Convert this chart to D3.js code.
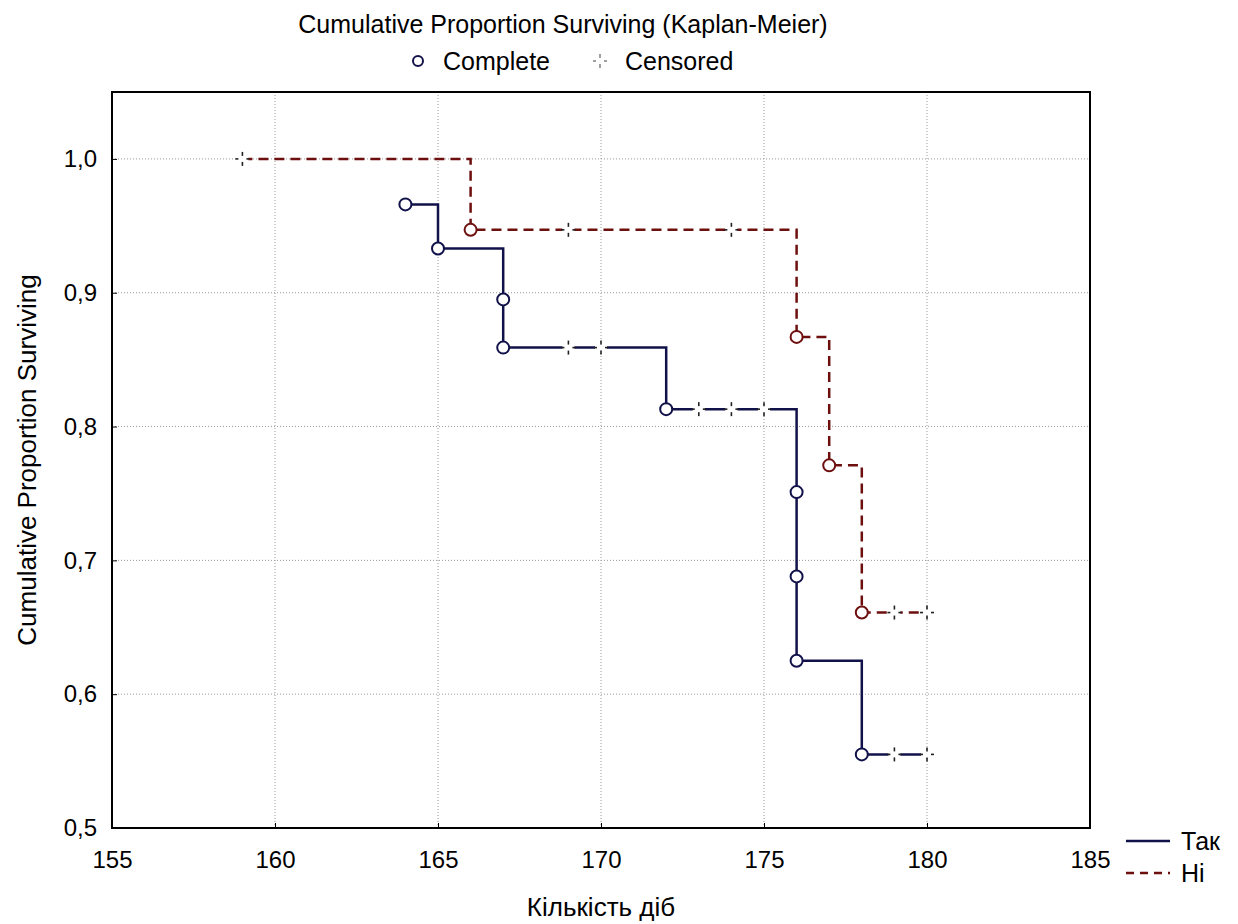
<!DOCTYPE html>
<html><head><meta charset="utf-8">
<script src="https://cdn.jsdelivr.net/npm/d3@7"></script>
<style>body{margin:0;background:#fff;} text{font-family:"Liberation Sans",Arial,sans-serif;fill:#000;}</style>
</head><body>
<svg id="c" width="1238" height="924"></svg>
<script>
const xTicks = [155,160,165,170,175,180,185];
const yTicks = [0.5,0.6,0.7,0.8,0.9,1.0];
const yTickLabels = ["0,5","0,6","0,7","0,8","0,9","1,0"];

const seriesNames = ["Так","Ні"];
const takCompleteT = [164,165,167,167,172,176,176,176,178];
const takCompleteS = [0.966,0.933,0.895,0.859,0.813,0.751,0.688,0.625,0.555];
const takCensoredT = [169,170,173,174,175,179,180];
const takCensoredS = [0.859,0.859,0.813,0.813,0.813,0.555,0.555];

const hiCompleteT = [166,176,177,178];
const hiCompleteS = [0.947,0.867,0.771,0.661];
const hiCensoredT = [159,169,174,179,180];
const hiCensoredS = [1.0,0.947,0.947,0.661,0.661];

const svg = d3.select("#c");
const L=112, R=1090, T=92, B=828;
const x = d3.scaleLinear().domain([155,185]).range([L,R]);
const y = d3.scaleLinear().domain([0.5,1.05]).range([B,T]);

// grid
svg.append("g").selectAll("line").data(xTicks.slice(1,-1)).join("line")
  .attr("x1",d=>x(d)).attr("x2",d=>x(d)).attr("y1",T).attr("y2",B)
  .attr("stroke","#999").attr("stroke-width",1).attr("stroke-dasharray","1,2");
svg.append("g").selectAll("line").data(yTicks.slice(1)).join("line")
  .attr("x1",L).attr("x2",R).attr("y1",d=>y(d)).attr("y2",d=>y(d))
  .attr("stroke","#999").attr("stroke-width",1).attr("stroke-dasharray","1,2");

// axes
const xAxis = d3.axisBottom(x).tickValues(xTicks).tickSize(-5).tickPadding(23).tickFormat(d3.format("d"));
const yAxis = d3.axisLeft(y).tickValues(yTicks).tickSize(-5).tickPadding(15).tickFormat((d,i)=>yTickLabels[i]);
const gx = svg.append("g").attr("transform",`translate(0,${B})`).call(xAxis);
const gy = svg.append("g").attr("transform",`translate(${L},0)`).call(yAxis);
[gx,gy].forEach(g=>{g.select(".domain").remove();
  g.selectAll("text").style("font-size","24px").style("font-family","Liberation Sans, Arial, sans-serif").attr("fill","#000");
  g.selectAll("line").attr("stroke","#000");});

svg.append("rect").attr("x",L).attr("y",T).attr("width",R-L).attr("height",B-T)
  .attr("fill","none").attr("stroke","#000").attr("stroke-width",2);

function buildSeries(cT,cS,zT,zS){
  const ev = cT.map((t,i)=>({t,s:cS[i],c:false})).concat(zT.map((t,i)=>({t,s:zS[i],c:true})));
  ev.sort((a,b)=>a.t-b.t || b.s-a.s);
  return ev;
}
const series = [
  {name:seriesNames[0], ev:buildSeries(takCompleteT,takCompleteS,takCensoredT,takCensoredS), color:"#12124a", dash:null},
  {name:seriesNames[1], ev:buildSeries(hiCompleteT,hiCompleteS,hiCensoredT,hiCensoredS), color:"#6e0f0f", dash:"10,6"}
];
const line = d3.line().x(d=>x(d.t)).y(d=>y(d.s)).curve(d3.curveStepAfter);
const crossSegs = [[0,-7,0,-3],[0,3,0,7],[-7,0,-4,0],[4,0,7,0]];

series.forEach(s=>{
  const g = svg.append("g");
  g.append("path").attr("d",line(s.ev)).attr("fill","none").attr("stroke",s.color)
    .attr("stroke-width",2.5).attr("stroke-dasharray",s.dash);
  const cz = s.ev.filter(d=>d.c);
  const cg = g.selectAll("g.cz").data(cz).join("g").attr("transform",d=>`translate(${x(d.t)},${y(d.s)})`);
  cg.append("rect").attr("x",-6).attr("y",-3).attr("width",12).attr("height",6).attr("fill","#fff");
  crossSegs.forEach(p=>{
    cg.append("line").attr("x1",p[0]).attr("y1",p[1]).attr("x2",p[2]).attr("y2",p[3])
      .attr("stroke","#222").attr("stroke-width",1.6);
  });
  g.selectAll("circle").data(s.ev.filter(d=>!d.c)).join("circle")
    .attr("cx",d=>x(d.t)).attr("cy",d=>y(d.s)).attr("r",6)
    .attr("fill","#fff").attr("stroke",s.color).attr("stroke-width",2);
});

// titles
svg.append("text").attr("x",563).attr("y",33).attr("text-anchor","middle").style("font-size","25px")
  .text("Cumulative Proportion Surviving (Kaplan-Meier)");
svg.append("circle").attr("cx",418).attr("cy",61).attr("r",5).attr("fill","#fff").attr("stroke","#12124a").attr("stroke-width",2);
svg.append("text").attr("x",443).attr("y",70).style("font-size","25px").text("Complete");
const lc = svg.append("g").attr("transform","translate(600,61)");
crossSegs.forEach(p=>{
  lc.append("line").attr("x1",p[0]).attr("y1",p[1]).attr("x2",p[2]).attr("y2",p[3]).attr("stroke","#777").attr("stroke-width",1.4);
});
svg.append("text").attr("x",625).attr("y",70).style("font-size","25px").text("Censored");

svg.append("text").attr("transform","translate(36,460) rotate(-90)").attr("text-anchor","middle")
  .style("font-size","26px").text("Cumulative Proportion Surviving");
svg.append("text").attr("x",601).attr("y",916).attr("text-anchor","middle").style("font-size","26px").text("Кількість діб");

// series legend
series.forEach((s,i)=>{
  const yy = 841 + i*32;
  svg.append("line").attr("x1",1126).attr("x2",1170).attr("y1",yy).attr("y2",yy)
    .attr("stroke",s.color).attr("stroke-width",2.5).attr("stroke-dasharray",s.dash?"8,6":null);
  svg.append("text").attr("x",1181).attr("y",yy+9).style("font-size","25px").text(s.name);
});
</script>
</body></html>
